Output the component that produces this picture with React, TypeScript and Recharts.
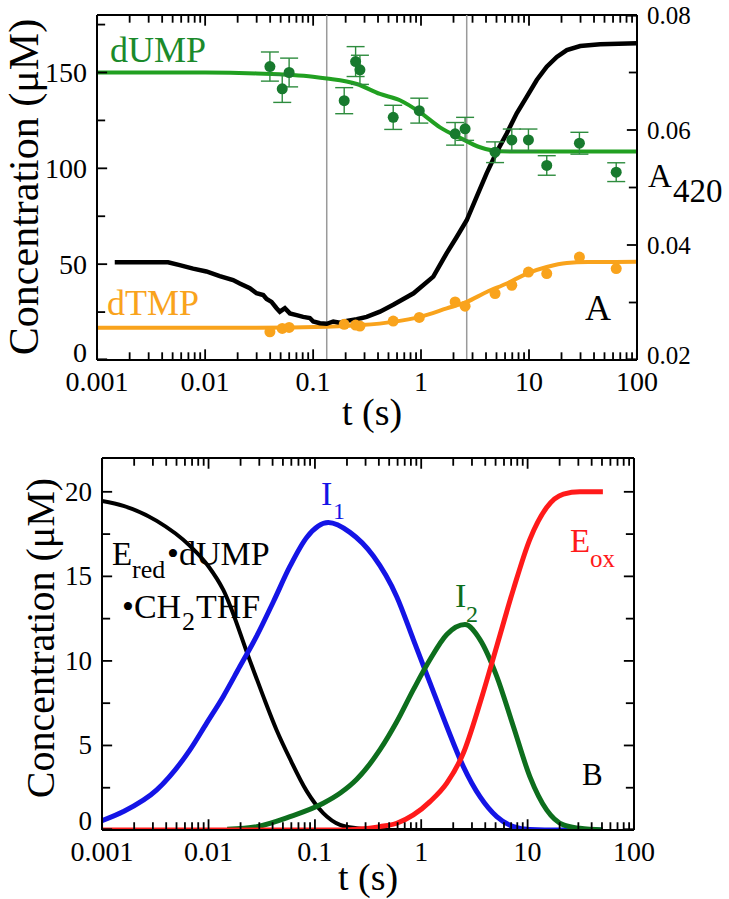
import React from "react";
import { ComposedChart, Line, Scatter, XAxis, YAxis, ReferenceLine, ErrorBar } from "recharts";

const SERIF = "'Liberation Serif', 'Times New Roman', serif";

// log time axis (both panels)
const T_MAJOR = [0.001, 0.01, 0.1, 1, 10, 100];
const T_LABELS = ["0.001", "0.01", "0.1", "1", "10", "100"];
const T_MINOR = [
  0.002, 0.003, 0.004, 0.005, 0.006, 0.007, 0.008, 0.009,
  0.02, 0.03, 0.04, 0.05, 0.06, 0.07, 0.08, 0.09,
  0.2, 0.3, 0.4, 0.5, 0.6, 0.7, 0.8, 0.9,
  2, 3, 4, 5, 6, 7, 8, 9,
  20, 30, 40, 50, 60, 70, 80, 90,
];
const T_ALL = [...T_MAJOR, ...T_MINOR];

// panel A axes
const A_LEFT_MAJOR = [0, 50, 100, 150];
const A_LEFT_TICKS = [0, 25, 50, 75, 100, 125, 150, 175];
const A_RIGHT_MAJOR = [0.02, 0.04, 0.06, 0.08];
const A_RIGHT_LABELS = ["0.02", "0.04", "0.06", "0.08"];
const A_RIGHT_TICKS = [0.02, 0.03, 0.04, 0.05, 0.06, 0.07, 0.08];
const GRAY_LINES = [0.134, 2.65];

// panel A: A420 trace (right axis)
const A420_T = [0.00146, 0.00455, 0.00583, 0.00776, 0.0103, 0.0137, 0.0182, 0.021, 0.026, 0.03, 0.0346, 0.0372, 0.0413, 0.046, 0.0493, 0.0549, 0.0611, 0.0705, 0.0811, 0.0935, 0.1005, 0.116, 0.134, 0.154, 0.177, 0.205, 0.254, 0.314, 0.417, 0.553, 0.853, 1.3, 1.73, 2.14, 2.65, 3.28, 4.06, 5.03, 6.22, 7.7, 9.55, 11.8, 14.6, 18.1, 22.4, 29.8, 45.6, 100];
const A420_V = [0.037, 0.037, 0.0365, 0.0359, 0.0354, 0.0346, 0.0339, 0.0333, 0.0325, 0.0316, 0.0313, 0.0306, 0.0301, 0.029, 0.0284, 0.029, 0.0281, 0.0278, 0.0275, 0.0273, 0.0267, 0.0264, 0.0263, 0.0267, 0.0265, 0.0268, 0.0271, 0.0275, 0.0284, 0.0296, 0.0316, 0.0345, 0.0386, 0.0414, 0.0443, 0.0484, 0.0525, 0.0562, 0.0594, 0.0629, 0.0658, 0.0687, 0.071, 0.0727, 0.0739, 0.0746, 0.0749, 0.0751];

// panel A: fits
const DUMP_FIT_T = [0.001, 0.01, 0.03, 0.1, 0.134, 0.254, 0.417, 0.638, 0.98, 1.5, 2.3, 3.52, 5.4, 8.3, 20, 100];
const DUMP_FIT_V = [150, 150, 149.5, 147.8, 146.9, 144, 138.8, 135.5, 129.2, 121.4, 115.9, 111, 108.9, 108.8, 108.8, 108.8];
const DTMP_FIT_T = [0.001, 0.03, 0.134, 0.28, 0.553, 0.98, 1.73, 2.65, 4.06, 6.22, 9.55, 14.6, 22.4, 35, 100];
const DTMP_FIT_V = [16.8, 16.8, 17.3, 18.2, 19.9, 22.5, 26.9, 30.3, 35.5, 39.9, 45.1, 48.5, 50.6, 51.1, 51.2];

// panel A: quench points
const PTS_T = [0.0399, 0.0519, 0.0601, 0.1945, 0.248, 0.272, 0.553, 0.964, 2.07, 2.56, 4.85, 6.93, 9.88, 14.6, 29.3, 64.2];
const DUMP_V = [153.1, 141.5, 150, 135.3, 155.7, 151.4, 126.6, 130.1, 118, 120.6, 108.4, 114.8, 114.8, 101.5, 113.1, 98];
const DUMP_ERR = [7.6, 7.1, 7.5, 6.8, 7.8, 7.6, 6.3, 6.5, 5.9, 6.0, 5.4, 5.7, 5.7, 5.1, 5.7, 4.9];
const DTMP_V = [14.7, 16.5, 17, 18.6, 18.2, 17.7, 20.3, 22.2, 30.3, 28.1, 34.7, 39, 45.9, 45.1, 53.7, 47.7];

// panel B axes
const B_MAJOR = [0, 5, 10, 15, 20];
const B_TICKS = [0, 2.5, 5, 7.5, 10, 12.5, 15, 17.5, 20];

// panel B: simulated species
const ERED_T = [0.001, 0.00159, 0.00327, 0.00671, 0.01, 0.0138, 0.0246, 0.0328, 0.0438, 0.0585, 0.0839, 0.12, 0.173, 0.248, 0.4, 1, 10, 50];
const ERED_V = [19.46, 19.17, 18.28, 16.8, 15.6, 14.2, 10.0, 7.9, 5.9, 4.2, 2.3, 1.0, 0.3, 0.1, 0, 0, 0, 0];
const I1_T = [0.001, 0.00159, 0.00327, 0.00671, 0.00963, 0.0138, 0.0198, 0.0284, 0.0408, 0.0585, 0.0839, 0.134, 0.214, 0.355, 0.589, 0.844, 1.21, 1.74, 2.49, 3.57, 5.13, 7.35, 10.5, 20, 50];
const I1_V = [0.55, 1.09, 2.37, 4.74, 6.32, 7.9, 9.68, 11.46, 13.5, 15.6, 17.3, 18.18, 17.6, 16.2, 13.8, 11.26, 8.7, 6.12, 3.75, 1.97, 0.79, 0.2, 0.03, 0, 0];
const I2_T = [0.015, 0.0284, 0.0585, 0.12, 0.175, 0.248, 0.41, 0.589, 0.844, 1.21, 1.74, 2.58, 3.57, 5.13, 7.35, 10.5, 15.1, 21.7, 31, 51];
const I2_V = [0.05, 0.2, 0.79, 1.58, 2.2, 3.0, 4.75, 6.4, 8.3, 10.08, 11.56, 12.15, 11.26, 9.09, 6.12, 3.16, 1.19, 0.3, 0.1, 0];
const EOX_T = [0.001, 0.15, 0.248, 0.41, 0.589, 0.844, 1.21, 1.74, 2.49, 3.57, 5.13, 7.35, 10.5, 15.1, 21.7, 31, 51];
const EOX_V = [0, 0, 0.05, 0.2, 0.4, 0.89, 1.68, 2.77, 4.55, 7.51, 10.87, 14.23, 17.19, 19.07, 19.86, 20, 20];

const zip = (t: number[], v: number[]) => t.map((x, i) => ({ t: x, v: v[i] }));

const GREEN_DOT = "#187a2e";
const GREEN_FIT = "#21a021";
const ORANGE = "#f9a31c";
const BLUE = "#1414e6";
const GREEN_B = "#0d6e1d";
const RED = "#ff1a1a";

const AX = { stroke: "#000", strokeWidth: 2 };

const xLabel = (p: any) => {
  const mi = T_MAJOR.indexOf(p.payload.value);
  if (mi < 0) return <g />;
  return (
    <text x={p.x} y={Number(p.y) + 31} textAnchor="middle" fontSize={28} fontFamily={SERIF} fill="#000">
      {T_LABELS[mi]}
    </text>
  );
};

const yLabel = (side: "left" | "right", major: number[], labels: string[], fontSize: number, lowDy: number) => (p: any) => {
  const mi = major.indexOf(p.payload.value);
  if (mi < 0) return <g />;
  return (
    <text
      x={side === "left" ? Number(p.x) - 10 : Number(p.x) + 10}
      y={Number(p.y) + (mi === 0 ? lowDy : 0)}
      textAnchor={side === "left" ? "end" : "start"}
      dominantBaseline="central"
      fontSize={fontSize}
      fontFamily={SERIF}
      fill="#000"
    >
      {labels[mi]}
    </text>
  );
};

// inward tick marks, placed at the tick values (nudged just inside the domain) through the chart's scales
const TW = 1.8;
type Side = "bottom" | "top" | "left" | "right";
const tickShape = (side: Side) => (p: any) => {
  const cx = Number(p.cx);
  const cy = Number(p.cy);
  if (!isFinite(cx) || !isFinite(cy)) return <g />;
  const len = p.payload && p.payload.m ? 10 : side === "bottom" || side === "top" ? 7 : 8;
  if (side === "bottom") return <rect x={cx - TW / 2} y={cy - len} width={TW} height={len + 1} fill="#000" />;
  if (side === "top") return <rect x={cx - TW / 2} y={cy - 1} width={TW} height={len + 1} fill="#000" />;
  if (side === "left") return <rect x={cx - 1} y={cy - TW / 2} width={len + 1} height={TW} fill="#000" />;
  return <rect x={cx - len} y={cy - TW / 2} width={len + 1} height={TW} fill="#000" />;
};

const inside = (v: number, lo: number, hi: number) => {
  const e = (hi - lo) * 0.002;
  return Math.min(Math.max(v, lo + e), hi - e);
};

const tickMarks = (yMax: number, yTicks: number[], yMajor: number[], rTicks: number[], rMajor: number[], rMin: number, rMax: number) => {
  const bottom = T_ALL.map((t) => ({ t: inside(t, 0.001, 100) === t ? t : t * (t < 1 ? 1.003 : 1 / 1.003), v: yMax * 0.002, m: T_MAJOR.includes(t) ? 1 : 0 }));
  const top = bottom.map((d) => ({ ...d, v: yMax * 0.998 }));
  const left = yTicks.map((v) => ({ t: 0.001 * 1.003, v: inside(v, 0, yMax), m: yMajor.includes(v) ? 1 : 0 }));
  const right = rTicks.map((v) => ({ t: 100 / 1.003, v: inside(v, rMin, rMax), m: rMajor.includes(v) ? 1 : 0 }));
  return [
    <Scatter key="tb" xAxisId="b" yAxisId="l" data={bottom} dataKey="v" shape={tickShape("bottom")} isAnimationActive={false} legendType="none" />,
    <Scatter key="tt" xAxisId="b" yAxisId="l" data={top} dataKey="v" shape={tickShape("top")} isAnimationActive={false} legendType="none" />,
    <Scatter key="tl" xAxisId="b" yAxisId="l" data={left} dataKey="v" shape={tickShape("left")} isAnimationActive={false} legendType="none" />,
    <Scatter key="tr" xAxisId="b" yAxisId="r" data={right} dataKey="v" shape={tickShape("right")} isAnimationActive={false} legendType="none" />,
  ];
};

const dot = (color: string) => (p: any) => <circle cx={p.cx} cy={p.cy} r={5.5} fill={color} />;

const PanelA = () => {
  const dumpPts = PTS_T.map((t, i) => ({ t, v: DUMP_V[i], e: DUMP_ERR[i] }));
  const dtmpPts = zip(PTS_T, DTMP_V);
  return (
    <ComposedChart width={729} height={440} margin={{ top: 15, right: 0, bottom: 0, left: 0 }}>
      <XAxis xAxisId="b" dataKey="t" type="number" scale="log" domain={[0.001, 100]} allowDataOverflow
        ticks={T_MAJOR} interval={0} tick={xLabel} tickLine={false} tickSize={0} tickMargin={0}
        axisLine={AX} height={80} />
      <YAxis yAxisId="l" dataKey="v" type="number" domain={[0, 180]} ticks={A_LEFT_MAJOR} interval={0}
        tick={yLabel("left", A_LEFT_MAJOR, ["0", "50", "100", "150"], 28, -8)} tickLine={false} tickSize={0} tickMargin={0}
        axisLine={AX} width={97} allowDataOverflow />
      <YAxis yAxisId="r" orientation="right" dataKey="v" type="number" domain={[0.02, 0.08]} ticks={A_RIGHT_MAJOR} interval={0}
        tick={yLabel("right", A_RIGHT_MAJOR, A_RIGHT_LABELS, 25, -5)} tickLine={false} tickSize={0} tickMargin={0}
        axisLine={AX} width={92} allowDataOverflow />
      <ReferenceLine y={180} xAxisId="b" yAxisId="l" stroke="#000" strokeWidth={2} />
      {GRAY_LINES.map((x) => (
        <ReferenceLine key={x} x={x} xAxisId="b" yAxisId="l" stroke="#9a9a9a" strokeWidth={1.5} />
      ))}
      <Line xAxisId="b" yAxisId="l" data={zip(DUMP_FIT_T, DUMP_FIT_V)} dataKey="v" type="monotone"
        stroke={GREEN_FIT} strokeWidth={4} dot={false} activeDot={false} isAnimationActive={false} />
      <Line xAxisId="b" yAxisId="l" data={zip(DTMP_FIT_T, DTMP_FIT_V)} dataKey="v" type="monotone"
        stroke={ORANGE} strokeWidth={4} dot={false} activeDot={false} isAnimationActive={false} />
      <Line xAxisId="b" yAxisId="r" data={zip(A420_T, A420_V)} dataKey="v" type="linear"
        stroke="#000" strokeWidth={4.5} dot={false} activeDot={false} isAnimationActive={false} />
      <Scatter xAxisId="b" yAxisId="l" data={dumpPts} dataKey="v" shape={dot(GREEN_DOT)} isAnimationActive={false}>
        <ErrorBar dataKey="e" direction="y" width={9} stroke="#2e8c3e" strokeWidth={1.4} isAnimationActive={false} />
      </Scatter>
      <Scatter xAxisId="b" yAxisId="l" data={dtmpPts} dataKey="v" shape={dot(ORANGE)} isAnimationActive={false} />
      {tickMarks(180, A_LEFT_TICKS, A_LEFT_MAJOR, A_RIGHT_TICKS, A_RIGHT_MAJOR, 0.02, 0.08)}
    </ComposedChart>
  );
};

const PanelB = () => (
  <ComposedChart width={729} height={459} margin={{ top: 18, right: 0, bottom: 0, left: 0 }}>
    <XAxis xAxisId="b" dataKey="t" type="number" scale="log" domain={[0.001, 100]} allowDataOverflow
      ticks={T_MAJOR} interval={0} tick={xLabel} tickLine={false} tickSize={0} tickMargin={0}
      axisLine={AX} height={69} />
    <YAxis yAxisId="l" dataKey="v" type="number" domain={[0, 22]} ticks={B_MAJOR} interval={0}
      tick={yLabel("left", B_MAJOR, ["0", "5", "10", "15", "20"], 27, -9)} tickLine={false} tickSize={0} tickMargin={0}
      axisLine={AX} width={102} allowDataOverflow />
    <YAxis yAxisId="r" orientation="right" dataKey="v" type="number" domain={[0, 22]} ticks={B_MAJOR}
      tick={false} tickLine={false} axisLine={AX} width={95} allowDataOverflow />
    <ReferenceLine y={22} xAxisId="b" yAxisId="l" stroke="#000" strokeWidth={2} />
    <Line xAxisId="b" yAxisId="l" data={zip(ERED_T, ERED_V)} dataKey="v" type="monotone"
      stroke="#000" strokeWidth={4} dot={false} activeDot={false} isAnimationActive={false} />
    <Line xAxisId="b" yAxisId="l" data={zip(I1_T, I1_V)} dataKey="v" type="monotone"
      stroke={BLUE} strokeWidth={5} dot={false} activeDot={false} isAnimationActive={false} />
    <Line xAxisId="b" yAxisId="l" data={zip(I2_T, I2_V)} dataKey="v" type="monotone"
      stroke={GREEN_B} strokeWidth={5} dot={false} activeDot={false} isAnimationActive={false} />
    <Line xAxisId="b" yAxisId="l" data={zip(EOX_T, EOX_V)} dataKey="v" type="monotone"
      stroke={RED} strokeWidth={5} dot={false} activeDot={false} isAnimationActive={false} />
    {tickMarks(22, B_TICKS, B_MAJOR, B_TICKS, B_MAJOR, 0, 22)}
  </ComposedChart>
);

const T = (props: any) => <text fontFamily={SERIF} {...props} />;

export default function App() {
  return (
    <div style={{ position: "absolute", left: 0, top: 0, width: 729, height: 899, background: "#fff" }}>
      <div style={{ position: "absolute", left: 0, top: 0 }}>
        <PanelA />
      </div>
      <div style={{ position: "absolute", left: 0, top: 440 }}>
        <PanelB />
      </div>
      <svg width={729} height={899} style={{ position: "absolute", left: 0, top: 0, pointerEvents: "none" }}>
        {/* panel A */}
        <T transform="translate(24,187) rotate(-90)" textAnchor="middle" dominantBaseline="central" fontSize={42}>
          Concentration (μM)
        </T>
        <T x={372} y={425} textAnchor="middle" fontSize={38}>t (s)</T>
        <T x={110} y={62} fontSize={36} fill="#1b8a2b">dUMP</T>
        <T x={107} y={315} fontSize={36} fill={ORANGE}>dTMP</T>
        <T x={585} y={320} fontSize={36}>A</T>
        <T x={648} y={187} fontSize={33}>A</T>
        <T x={673} y={202} fontSize={33}>420</T>
        {/* panel B */}
        <T transform="translate(40,638) rotate(-90)" textAnchor="middle" dominantBaseline="central" fontSize={40}>
          Concentration (μM)
        </T>
        <T x={368} y={890} textAnchor="middle" fontSize={38}>t (s)</T>
        <T x={321} y={505} fontSize={34} fill={BLUE}>I</T>
        <T x={333} y={519} fontSize={24} fill={BLUE}>1</T>
        <T x={455} y={607} fontSize={34} fill={GREEN_B}>I</T>
        <T x={466} y={622} fontSize={24} fill={GREEN_B}>2</T>
        <T x={570} y={552} fontSize={33} fill={RED}>E</T>
        <T x={590} y={567} fontSize={25} fill={RED}>ox</T>
        <T x={582} y={785} fontSize={31}>B</T>
        <T x={112} y={565} fontSize={33}>E</T>
        <T x={132} y={578} fontSize={26}>red</T>
        <T x={167} y={565} fontSize={34}>•dUMP</T>
        <T x={122} y={618} fontSize={34}>•CH</T>
        <T x={182} y={630} fontSize={26}>2</T>
        <T x={196} y={618} fontSize={34}>THF</T>
      </svg>
    </div>
  );
}
